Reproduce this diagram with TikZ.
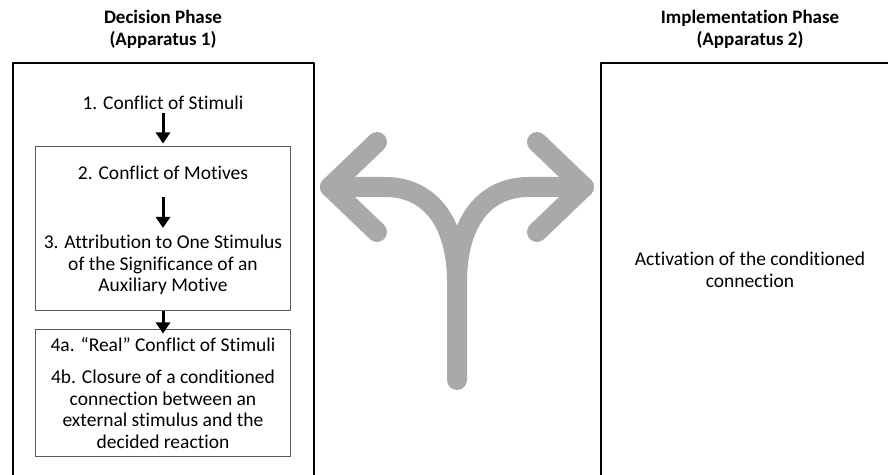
\documentclass[tikz,border=0pt]{standalone}
\usepackage{fontspec}
\setmainfont{Carlito}[Ligatures={TeX,NoCommon}]
\usetikzlibrary{arrows.meta}
\definecolor{forkgray}{rgb}{0.67,0.66,0.66}
\definecolor{boxgray}{rgb}{0.35,0.35,0.35}
\tikzset{
  phase/.style={draw=black,line width=2.5bp},
  stagebox/.style={draw=boxgray,line width=1bp,inner sep=0pt},
  stagetext/.style={align=center,inner sep=0pt,font=\fontsize{19.5bp}{21.5bp}\selectfont},
  headtext/.style={align=center,inner sep=0pt,font=\fontsize{19bp}{22bp}\selectfont\bfseries},
  stepedge/.style={-{Triangle[length=11bp,width=14bp]},line width=3bp,black},
}
\begin{document}
\begin{tikzpicture}[x=1bp,y=-1bp,line join=bevel]
  \useasboundingbox (0,0) rectangle (888,475);
  \clip (0,0) rectangle (888,475);
%%
  % Node: dec
  \draw[phase] (13,63) rectangle (314,500);
  \node[headtext] (dec) at (163,29) {Decision Phase\\(Apparatus 1)};
  % Node: imp
  \draw[phase] (601,63) rectangle (900,500);
  \node[headtext] (imp) at (750,29) {Implementation Phase\\(Apparatus 2)};
  % Node: stim
  \node[stagetext] (stim) at (163,103) {1. Conflict of Stimuli};
  % Node: motbox
  \node[stagebox,minimum width=254bp,minimum height=164bp] (motbox) at (163,229) {};
  % Node: mot
  \node[stagetext] (mot) at (163,173) {2. Conflict of Motives};
  % Node: attr
  \node[stagetext] (attr) at (163,265) {3. Attribution to One Stimulus\\of the Significance of an\\Auxiliary Motive};
  % Node: realbox
  \node[stagebox,minimum width=254bp,minimum height=126bp] (realbox) at (163,393) {};
  % Node: real
  \node[stagetext] (real) at (163,345) {4a. “Real” Conflict of Stimuli};
  % Node: clos
  \node[stagetext] (clos) at (163,409.5) {4b. Closure of a conditioned\\connection between an\\external stimulus and the\\decided reaction};
  % Node: act
  \node[stagetext] (act) at (750,270) {Activation of the conditioned\\connection};
  % Edge: stim -> motbox
  \draw[stepedge] ([yshift=-3bp]stim.south) -- ([yshift=3bp]motbox.north);
  % Edge: mot -> attr
  \draw[stepedge] ([yshift=-17bp]mot.south) -- ([yshift=7bp]attr.north);
  % Edge: motbox -> realbox
  \draw[stepedge] (motbox.south) -- ([yshift=-4bp]realbox.north);
  % Fork
  \coordinate (root) at (457,380);
  \coordinate (split) at (457,282);
  \coordinate (ltip) at (330,187);
  \coordinate (rtip) at (584,187);
  \begin{scope}[draw=forkgray,line width=20bp,line cap=round,line join=round]
  \draw (root) -- (split) .. controls (457,225) and (432,187) .. (385,187) -- (ltip);
  \draw (split) .. controls (457,225) and (482,187) .. (529,187) -- (rtip);
  \draw (377,142) -- (ltip) -- (377,232);
  \draw (537,142) -- (rtip) -- (537,232);
  \end{scope}
%
\end{tikzpicture}
\end{document}
